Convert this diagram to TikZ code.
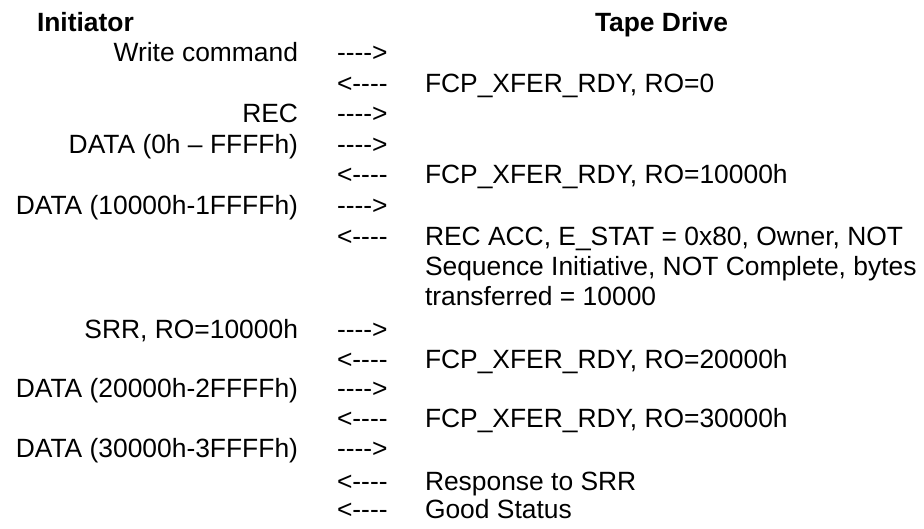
\documentclass[tikz,border=0pt]{standalone}
\usepackage{fontspec}
\setmainfont{Liberation Sans}
\newcommand{\sendarrow}{-{}-{}-{}-{}>}
\newcommand{\backarrow}{<{}-{}-{}-{}-}
\begin{document}
\begin{tikzpicture}[x=1pt,y=-1pt,
  txt/.style={inner sep=0pt,outer sep=0pt,font=\fontsize{26.4}{29}\selectfont},
  lefttxt/.style={txt,anchor=base east},
  righttxt/.style={txt,anchor=base west},
  arrowtxt/.style={txt,anchor=base west},
  headtxt/.style={txt,font=\fontsize{26.4}{29}\selectfont\bfseries,anchor=base west}]
\useasboundingbox (0,0) rectangle (924,529);
% column positions
\def\lx{298}\def\ax{337}\def\rx{425}
% headings
\node[headtxt] (hinit) at (37,32) {Initiator};
\node[headtxt] (htape) at (595,32) {Tape Drive};
% message rows (baselines)
\node[lefttxt]  (l1) at (\lx,62) {Write command};
\node[arrowtxt] (a1) at (\ax,62) {\sendarrow};
\node[arrowtxt] (a2) at (\ax,92.5) {\backarrow};
\node[righttxt] (r2) at (\rx,92.5) {FCP\_XFER\_RDY, RO=0};
\node[lefttxt]  (l3) at (\lx,123) {REC};
\node[arrowtxt] (a3) at (\ax,123) {\sendarrow};
\node[lefttxt]  (l4) at (\lx,153.5) {DATA (0h – FFFFh)};
\node[arrowtxt] (a4) at (\ax,153.5) {\sendarrow};
\node[arrowtxt] (a5) at (\ax,184) {\backarrow};
\node[righttxt] (r5) at (\rx,184) {FCP\_XFER\_RDY, RO=10000h};
\node[lefttxt]  (l6) at (\lx,215) {DATA (10000h-1FFFFh)};
\node[arrowtxt] (a6) at (\ax,215) {\sendarrow};
\node[arrowtxt] (a7) at (\ax,246) {\backarrow};
\node[righttxt] (r7a) at (\rx,246) {REC ACC, E\_STAT = 0x80, Owner, NOT};
\node[righttxt] (r7b) at (\rx,276) {Sequence Initiative, NOT Complete, bytes};
\node[righttxt] (r7c) at (\rx,306) {transferred = 10000};
\node[lefttxt]  (l8) at (\lx,338) {SRR, RO=10000h};
\node[arrowtxt] (a8) at (\ax,338) {\sendarrow};
\node[arrowtxt] (a9) at (\ax,368) {\backarrow};
\node[righttxt] (r9) at (\rx,368) {FCP\_XFER\_RDY, RO=20000h};
\node[lefttxt]  (l10) at (\lx,397.5) {DATA (20000h-2FFFFh)};
\node[arrowtxt] (a10) at (\ax,397.5) {\sendarrow};
\node[arrowtxt] (a11) at (\ax,427.5) {\backarrow};
\node[righttxt] (r11) at (\rx,427.5) {FCP\_XFER\_RDY, RO=30000h};
\node[lefttxt]  (l12) at (\lx,457.5) {DATA (30000h-3FFFFh)};
\node[arrowtxt] (a12) at (\ax,457.5) {\sendarrow};
\node[arrowtxt] (a13) at (\ax,490) {\backarrow};
\node[righttxt] (r13) at (\rx,490) {Response to SRR};
\node[arrowtxt] (a14) at (\ax,518.5) {\backarrow};
\node[righttxt] (r14) at (\rx,518.5) {Good Status};
\end{tikzpicture}
\end{document}
